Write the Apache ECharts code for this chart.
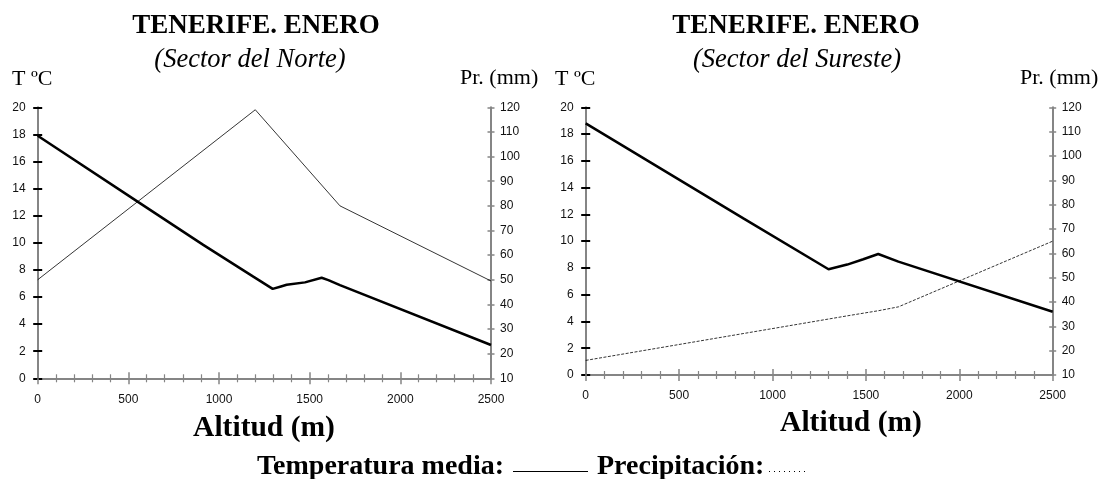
<!DOCTYPE html>
<html><head><meta charset="utf-8">
<script src="https://cdn.jsdelivr.net/npm/echarts@6/dist/echarts.min.js"></script>
<style>html,body{margin:0;padding:0;background:#fff}#c{width:1108px;height:479px}</style>
</head><body><div id="c"></div>
<script>
// ---- data ----
const northAlt  = [0, 555, 913, 1189, 1296, 1337, 1373, 1474, 1566, 1603, 1667, 2500];
const northTemp = [17.9, 13.0, 9.85, 7.5, 6.6, 6.76, 6.9, 7.08, 7.42, 7.25, 6.88, 2.46];
const northPrecAlt = [0, 1200, 1667, 2500];
const northPrec    = [50, 119, 80, 49.5];
const southAlt  = [0, 844, 1300, 1400, 1486, 1566, 1674, 2500];
const southTemp = [18.8, 11.7, 7.9, 8.25, 8.65, 9.04, 8.47, 4.73];
const southPrecAlt = [0, 1415, 1566, 1674, 2500];
const southPrec    = [16, 34.5, 36.4, 38, 65];
const titles = ['TENERIFE. ENERO', 'TENERIFE. ENERO'];
const subtitles = ['(Sector del Norte)', '(Sector del Sureste)'];
const xName = 'Altitud (m)';
const yLeftName = 'T ºC';
const yRightName = 'Pr. (mm)';
const legendTemp = 'Temperatura media:';
const legendPrec = 'Precipitación:';

const zip = (a, b) => a.map((v, i) => [v, b[i]]);
const GRAY = '#858585';
const SANS = "'Liberation Sans', Arial, sans-serif";
const SERIF = "'Liberation Serif', 'Times New Roman', serif";
const plain = v => String(v);

const grids = [
  {left: 37.7, top: 107.3, width: 453.3, height: 271, outerBoundsMode: 'none'},
  {left: 585.7, top: 107.3, width: 467, height: 267.7, outerBoundsMode: 'none'}
];

const xAxes = [], yAxes = [];
grids.forEach((g, gi) => {
  [true, false].forEach(inside => {
    xAxes.push({
      type: 'value', gridIndex: gi, min: 0, max: 2500, interval: 500, position: 'bottom',
      axisLine: {show: inside, onZero: false, lineStyle: {color: GRAY, width: 2}},
      axisTick: {show: true, inside: inside, length: 6, lineStyle: {color: GRAY, width: 1.5}},
      minorTick: {show: true, splitNumber: 5, length: 4, lineStyle: {color: GRAY, width: 1.2}},
      axisLabel: {show: inside, margin: 15, fontFamily: SANS, fontSize: 12, color: '#111', formatter: plain},
      splitLine: {show: false}, minorSplitLine: {show: false}
    });
  });
  [true, false].forEach(inside => {
    yAxes.push({
      type: 'value', gridIndex: gi, min: 0, max: 20, interval: 2, position: 'left',
      axisLine: {show: !inside, onZero: false, lineStyle: {color: GRAY, width: 2}},
      axisTick: {show: true, inside: inside, length: 4.5, lineStyle: {color: '#000', width: 2}},
      axisLabel: {show: !inside, margin: 12, fontFamily: SANS, fontSize: 12, color: '#111', formatter: plain},
      splitLine: {show: false}
    });
  });
  [true, false].forEach(inside => {
    yAxes.push({
      type: 'value', gridIndex: gi, min: 10, max: 120, interval: 10, position: 'right',
      axisLine: {show: !inside, onZero: false, lineStyle: {color: GRAY, width: 2}},
      axisTick: {show: true, inside: inside, length: 3.5, lineStyle: {color: GRAY, width: 1.5}},
      axisLabel: {show: !inside, margin: 9, fontFamily: SANS, fontSize: 12, color: '#111', formatter: plain},
      splitLine: {show: false}
    });
  });
});

const series = [
  {type: 'line', xAxisIndex: 0, yAxisIndex: 0, data: zip(northAlt, northTemp), symbol: 'none',
   lineStyle: {color: '#000', width: 2.5}, z: 5},
  {type: 'line', xAxisIndex: 0, yAxisIndex: 2, data: zip(northPrecAlt, northPrec), symbol: 'none',
   lineStyle: {color: '#000', width: 0.8}, z: 4},
  {type: 'line', xAxisIndex: 2, yAxisIndex: 4, data: zip(southAlt, southTemp), symbol: 'none',
   lineStyle: {color: '#000', width: 2.5}, z: 5},
  {type: 'line', xAxisIndex: 2, yAxisIndex: 6, data: zip(southPrecAlt, southPrec), symbol: 'none',
   lineStyle: {color: '#000', width: 0.8, type: [3, 1.5]}, z: 4}
];

function txt(x, y, text, font, align) {
  return {type: 'text', x: x, y: y, style: {text: text, font: font, fill: '#000',
    textAlign: align || 'center', textVerticalAlign: 'middle'}};
}
const graphic = [
  txt(256, 26.5, titles[0], 'bold 27px ' + SERIF),
  txt(250, 60, subtitles[0], 'italic 26.5px ' + SERIF),
  txt(796, 26.5, titles[1], 'bold 27px ' + SERIF),
  txt(797, 60, subtitles[1], 'italic 26.5px ' + SERIF),
  txt(12, 79, yLeftName, '22px ' + SERIF, 'left'),
  txt(555, 79, yLeftName, '22px ' + SERIF, 'left'),
  txt(460, 78, yRightName, '22px ' + SERIF, 'left'),
  txt(1020, 78, yRightName, '22px ' + SERIF, 'left'),
  txt(264, 428, xName, 'bold 29.5px ' + SERIF),
  txt(851, 423, xName, 'bold 29.5px ' + SERIF),
  txt(257, 467, legendTemp, 'bold 28px ' + SERIF, 'left'),
  {type: 'line', shape: {x1: 513, y1: 471.5, x2: 588, y2: 471.5}, style: {stroke: '#000', lineWidth: 1.2}},
  txt(597, 467, legendPrec, 'bold 28px ' + SERIF, 'left'),
  {type: 'line', shape: {x1: 769, y1: 471.5, x2: 807, y2: 471.5}, style: {stroke: '#000', lineWidth: 1.2, lineDash: [1, 4]}}
];

const chart = echarts.init(document.getElementById('c'), null, {renderer: 'canvas'});
chart.setOption({
  animation: false, backgroundColor: '#fff',
  grid: grids, xAxis: xAxes, yAxis: yAxes, series: series, graphic: graphic
});
</script></body></html>
